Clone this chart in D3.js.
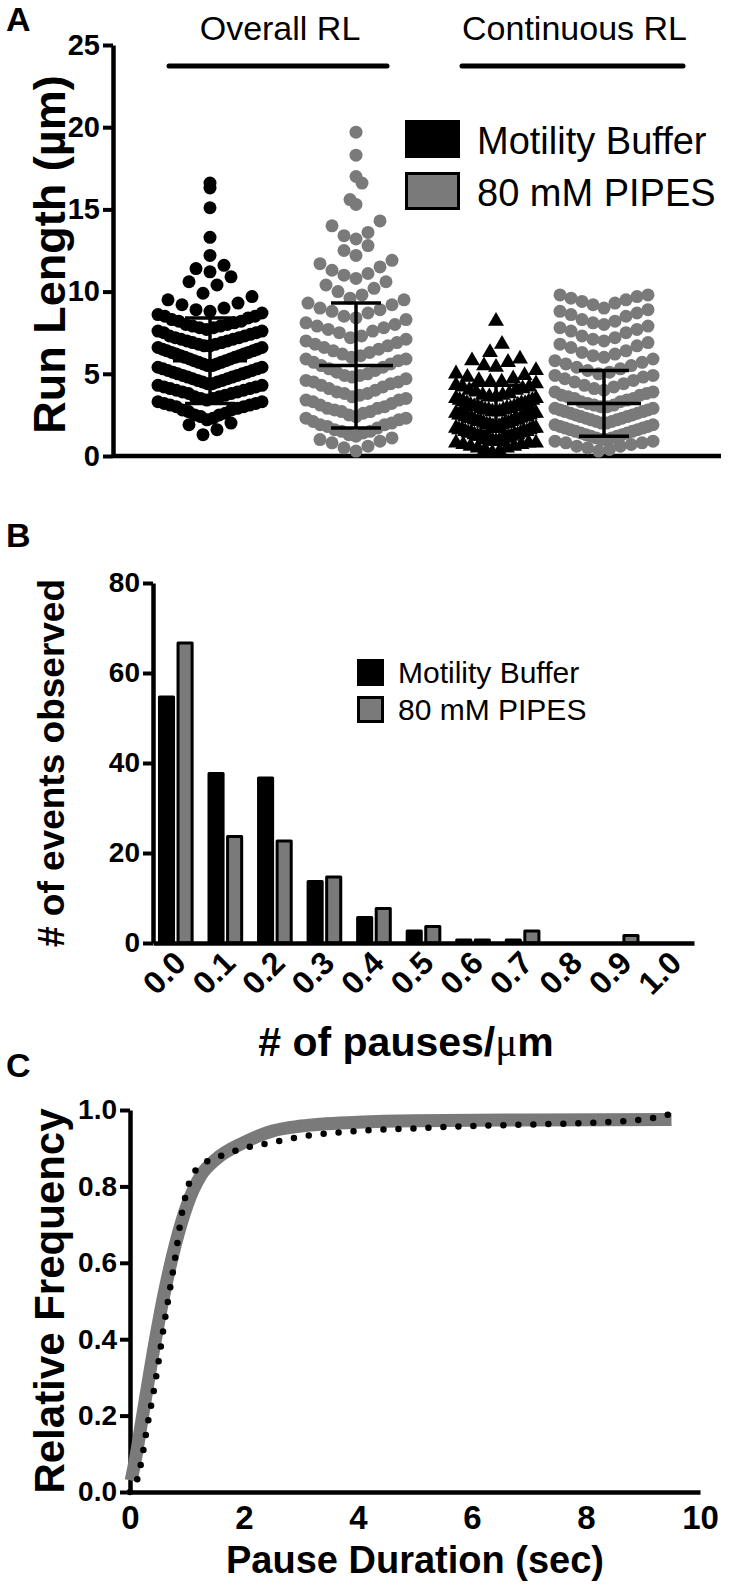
<!DOCTYPE html>
<meta charset="utf-8">
<head>
<style>
  body { margin: 0; background: #fff; }
  svg text { font-family: "Liberation Sans", Arial, sans-serif; fill: #000; }
  .axis .domain { stroke: #000; stroke-width: 4.5; }
  .axis .tick line { stroke: #000; stroke-width: 4; }
  .axis text { font-weight: bold; }
</style>
</head>
<body>
<div id="fig"></div>
<script src="https://d3js.org/d3.v7.min.js"></script>
<script>
// ---------- data ----------
// panel A: run lengths (um), one list per column
const runColumns = ["overallMB", "overallPIPES", "contMB", "contPIPES"];
const overallMB = [1.3, 1.6, 1.9, 2.0, 2.2, 2.3, 2.4, 2.5, 2.5, 2.6, 2.7, 2.8, 2.8, 2.9,
  3.0, 3.0, 3.1, 3.1, 3.2, 3.2, 3.3, 3.3, 3.4, 3.5, 3.5, 3.6, 3.6, 3.7, 3.8, 3.8, 3.9, 3.9,
  4.0, 4.0, 4.1, 4.1, 4.2, 4.2, 4.3, 4.3, 4.4, 4.4, 4.5, 4.5, 4.6, 4.6, 4.7, 4.7, 4.8, 4.8, 4.9, 4.9,
  5.0, 5.0, 5.1, 5.1, 5.2, 5.2, 5.3, 5.3, 5.4, 5.4, 5.5, 5.5, 5.6, 5.6, 5.7, 5.7, 5.8, 5.8, 5.9, 5.9,
  6.0, 6.0, 6.1, 6.1, 6.2, 6.2, 6.3, 6.3, 6.4, 6.4, 6.5, 6.5, 6.6, 6.6, 6.7, 6.7, 6.8, 6.8, 6.9, 6.9,
  7.0, 7.0, 7.1, 7.1, 7.2, 7.2, 7.3, 7.3, 7.4, 7.5, 7.5, 7.6, 7.6, 7.7, 7.8, 7.8, 7.9, 7.9,
  8.0, 8.0, 8.1, 8.2, 8.2, 8.3, 8.4, 8.5, 8.5, 8.6, 8.7, 8.8, 8.9,
  9.0, 9.2, 9.3, 9.5, 9.7, 9.9,
  10.4, 10.6, 10.9, 11.2, 11.4, 11.6, 12.2, 13.3, 15.1, 16.3, 16.6];
const overallPIPES = [0.3, 0.5, 0.6, 0.8, 0.9,
  1.0, 1.1, 1.2, 1.3, 1.4, 1.5, 1.5, 1.6, 1.7, 1.8, 1.9, 1.9,
  2.0, 2.1, 2.2, 2.3, 2.3, 2.4, 2.5, 2.6, 2.7, 2.7, 2.8, 2.9, 2.9,
  3.0, 3.1, 3.2, 3.3, 3.4, 3.4, 3.5, 3.6, 3.7, 3.8, 3.8, 3.9,
  4.0, 4.1, 4.2, 4.3, 4.4, 4.5, 4.5, 4.6, 4.7, 4.8, 4.9, 4.9,
  5.0, 5.1, 5.2, 5.3, 5.4, 5.5, 5.6, 5.7, 5.8, 5.9, 5.9,
  6.0, 6.1, 6.2, 6.3, 6.4, 6.5, 6.6, 6.7, 6.8, 6.9,
  7.0, 7.1, 7.2, 7.3, 7.5, 7.6, 7.7, 7.8, 7.9,
  8.0, 8.1, 8.3, 8.4, 8.5, 8.7, 8.8, 8.9,
  9.0, 9.2, 9.3, 9.5, 9.6, 9.8,
  10.0, 10.2, 10.4, 10.6, 10.8, 11.0, 11.1, 11.3, 11.5, 11.7, 11.9,
  12.2, 12.5, 12.8, 13.2, 13.4, 13.6, 14.0, 14.3, 15.3, 15.6, 16.6, 17.0, 18.3, 19.7];
const contMB = [0.2, 0.3, 0.4, 0.5, 0.5, 0.6, 0.6, 0.7, 0.7, 0.8, 0.8, 0.8, 0.9, 0.9, 0.9,
  1.0, 1.0, 1.0, 1.1, 1.1, 1.1, 1.2, 1.2, 1.2, 1.3, 1.3, 1.3, 1.4, 1.4, 1.4, 1.5, 1.5, 1.5,
  1.6, 1.6, 1.6, 1.7, 1.7, 1.7, 1.8, 1.8, 1.8, 1.9, 1.9, 1.9,
  2.0, 2.0, 2.0, 2.1, 2.1, 2.1, 2.2, 2.2, 2.2, 2.3, 2.3, 2.3, 2.4, 2.4, 2.4, 2.5, 2.5, 2.5,
  2.6, 2.6, 2.6, 2.7, 2.7, 2.7, 2.8, 2.8, 2.8, 2.9, 2.9, 2.9,
  3.0, 3.0, 3.0, 3.1, 3.1, 3.2, 3.2, 3.2, 3.3, 3.3, 3.4, 3.4, 3.5, 3.5, 3.6, 3.6, 3.7, 3.7, 3.8, 3.9,
  4.0, 4.0, 4.1, 4.2, 4.2, 4.3, 4.4, 4.5, 4.5, 4.6, 4.7, 4.8, 4.9,
  5.0, 5.2, 5.4, 5.5, 5.7, 5.8, 5.9, 6.3, 6.8, 8.2];
const contPIPES = [0.3, 0.4, 0.5, 0.6, 0.6, 0.7, 0.8, 0.8, 0.9, 0.9,
  1.0, 1.0, 1.1, 1.1, 1.2, 1.2, 1.3, 1.3, 1.4, 1.4, 1.5, 1.5, 1.6, 1.6, 1.7, 1.7, 1.8, 1.8, 1.9, 1.9,
  2.0, 2.0, 2.1, 2.1, 2.2, 2.2, 2.3, 2.3, 2.4, 2.4, 2.5, 2.5, 2.6, 2.6, 2.7, 2.7, 2.8, 2.8, 2.9, 2.9,
  3.0, 3.0, 3.1, 3.1, 3.2, 3.3, 3.3, 3.4, 3.5, 3.5, 3.6, 3.7, 3.7, 3.8, 3.9, 3.9,
  4.0, 4.1, 4.2, 4.3, 4.4, 4.5, 4.6, 4.7, 4.8, 4.9, 4.9,
  5.0, 5.1, 5.2, 5.3, 5.4, 5.5, 5.6, 5.7, 5.8, 5.9,
  6.0, 6.1, 6.2, 6.3, 6.4, 6.6, 6.7, 6.8, 6.9,
  7.0, 7.1, 7.2, 7.3, 7.5, 7.6, 7.7, 7.8, 7.9,
  8.0, 8.1, 8.2, 8.3, 8.5, 8.6, 8.7, 8.8, 8.9,
  9.0, 9.2, 9.3, 9.4, 9.5, 9.6, 9.7, 9.8, 9.8];
// mean and SD shown as error bars
const runMeans = [5.8, 5.5, 2.9, 3.2];
const runSDs = [2.6, 3.8, 1.4, 2.0];
const runTicks = [0, 5, 10, 15, 20, 25];

// panel B: histogram of pauses per um
const pauseBins = ["0.0", "0.1", "0.2", "0.3", "0.4", "0.5", "0.6", "0.7", "0.8", "0.9", "1.0"];
const mbCounts = [55, 38, 37, 14, 6, 3, 1, 1, 0, 0, 0];
const pipesCounts = [67, 24, 23, 15, 8, 4, 1, 3, 0, 2, 0];
const countTicks = [0, 20, 40, 60, 80];

// panel C: cumulative pause durations
const fitSec = [0.02, 0.1, 0.2, 0.4, 0.6, 0.8, 1.0, 1.25, 1.5, 2.0, 2.5, 3.0, 4.0, 5.0, 7.0, 9.5];
const fitFreq = [0.03, 0.09, 0.18, 0.36, 0.52, 0.65, 0.75, 0.83, 0.87, 0.915, 0.945, 0.958, 0.968, 0.972, 0.974, 0.975];
const ecdfSec = [0, 0.1, 0.2, 0.3, 0.4, 0.5, 0.6, 0.7, 0.8, 0.9, 1.0, 1.1, 1.3, 1.6, 2.0, 2.5, 3.0, 4.0, 5.0, 6.0, 7.0, 8.0, 9.0, 9.5];
const ecdfFreq = [0, 0.02, 0.08, 0.17, 0.25, 0.34, 0.44, 0.53, 0.62, 0.72, 0.79, 0.83, 0.86, 0.88, 0.9, 0.915, 0.93, 0.945, 0.952, 0.958, 0.962, 0.966, 0.975, 0.99];
const secTicks = [0, 2, 4, 6, 8, 10];
const freqTicks = [0, 0.2, 0.4, 0.6, 0.8, 1.0];

const legendLabels = ["Motility Buffer", "80 mM PIPES"];
const GRAY = "#7a7a7a";

// ---------- svg ----------
const svg = d3.select("#fig").append("svg")
    .attr("width", 750)
    .attr("height", 1586);

function panelLetter(t, y) {
    svg.append("text").attr("x", 6).attr("y", y)
        .style("font-size", "34px").style("font-weight", "bold").text(t);
}

// ===== Panel A =====
panelLetter("A", 31);
const yA = d3.scaleLinear().domain([0, 25]).range([456, 45]);
// column centres (prism leaves a narrower gap before the last column)
const xA = d3.scaleOrdinal().domain(runColumns).range([210, 356, 496, 604]);

svg.append("g").attr("class", "axis")
    .attr("transform", "translate(113,0)")
    .call(d3.axisLeft(yA).tickValues(runTicks).tickSize(10).tickSizeOuter(0).tickPadding(3))
    .selectAll("text").style("font-size", "29px");
svg.append("line").attr("x1", 113).attr("x2", 721).attr("y1", 456).attr("y2", 456)
    .attr("stroke", "#000").attr("stroke-width", 4.5);

svg.append("text")
    .attr("transform", "translate(65," + ((yA(0) + yA(25)) / 2 + 4) + ") rotate(-90)")
    .attr("text-anchor", "middle")
    .style("font-size", "45px").style("font-weight", "bold")
    .text("Run Length (µm)");

// rows of points; a row is spread sideways (sparse rows wide, crowded rows squeezed)
function swarm(values, cx, rowUnit, gap, maxHalf) {
    const pts = values.map(v => ({ v: v }));
    d3.groups(pts, p => Math.floor(p.v / rowUnit)).forEach(([k, row]) => {
        row.sort((a, b) => a.v - b.v);
        const n = row.length;
        const s = n > 1 ? Math.min(gap, 2 * maxHalf / (n - 1)) : 0;
        const slots = d3.range(n).map(i => (i - (n - 1) / 2) * s)
            .sort((a, b) => Math.abs(a) - Math.abs(b) || a - b);
        row.forEach((p, i) => { p.x = cx + slots[i]; p.y = yA(p.v); });
    });
    return pts;
}

const colSpecs = [
    { vals: overallMB, fill: "#000", shape: "circle", half: 52, row: 1.1, gap: 14 },
    { vals: overallPIPES, fill: GRAY, shape: "circle", half: 50, row: 1.2, gap: 12 },
    { vals: contMB, fill: "#000", shape: "triangle", half: 40, row: 0.9, gap: 12 },
    { vals: contPIPES, fill: GRAY, shape: "circle", half: 49, row: 1.0, gap: 11 }
];

colSpecs.forEach((c, i) => {
    const pts = swarm(c.vals, xA(runColumns[i]), c.row, c.gap, c.half);
    const g = svg.append("g");
    if (c.shape === "circle") {
        g.selectAll("circle").data(pts).join("circle")
            .attr("cx", d => d.x).attr("cy", d => d.y).attr("r", 6.5)
            .attr("fill", c.fill);
    } else {
        g.selectAll("path").data(pts).join("path")
            .attr("transform", d => "translate(" + d.x + "," + d.y + ")")
            .attr("d", d3.symbol(d3.symbolTriangle, 110))
            .attr("fill", c.fill);
    }
});

// mean +/- SD bars
runColumns.forEach((col, i) => {
    const cx = xA(col), m = runMeans[i], sd = runSDs[i];
    const g = svg.append("g").attr("stroke", "#000").attr("stroke-width", 3.5);
    g.append("line").attr("x1", cx).attr("x2", cx).attr("y1", yA(m - sd)).attr("y2", yA(m + sd));
    g.append("line").attr("x1", cx - 37).attr("x2", cx + 37).attr("y1", yA(m)).attr("y2", yA(m));
    [m - sd, m + sd].forEach(v => {
        g.append("line").attr("x1", cx - 25).attr("x2", cx + 25).attr("y1", yA(v)).attr("y2", yA(v));
    });
});

// group headers
const groups = [
    { label: "Overall RL", a: runColumns[0], b: runColumns[1], l: 41, r: 31 },
    { label: "Continuous RL", a: runColumns[2], b: runColumns[3], l: 34, r: 79 }
];
groups.forEach(gr => {
    const x1 = xA(gr.a) - gr.l, x2 = xA(gr.b) + gr.r;
    svg.append("line").attr("x1", x1).attr("x2", x2).attr("y1", 66).attr("y2", 66)
        .attr("stroke", "#000").attr("stroke-width", 5).attr("stroke-linecap", "round");
    svg.append("text").attr("x", (x1 + x2) / 2 + 2).attr("y", 40)
        .attr("text-anchor", "middle").style("font-size", "34px").text(gr.label);
});

// legend A
legendLabels.forEach((lab, i) => {
    const y0 = 120 + i * 52;
    svg.append("rect").attr("x", 406.5).attr("y", y0 + 1.5).attr("width", 52).attr("height", 35)
        .attr("fill", i === 0 ? "#000" : GRAY).attr("stroke", "#000").attr("stroke-width", 3);
    svg.append("text").attr("x", 477).attr("y", y0 + 34)
        .style("font-size", "38px").text(lab);
});

// ===== Panel B =====
panelLetter("B", 547);
const yB = d3.scaleLinear().domain([0, 80]).range([943, 583]);
const xB = d3.scaleBand().domain(pauseBins).range([153, 694]).paddingInner(0.28).paddingOuter(0.1);
const xB1 = d3.scaleBand().domain(["mb", "pipes"]).range([0, xB.bandwidth()]).paddingInner(0.08);

svg.append("g").attr("class", "axis")
    .attr("transform", "translate(153,0)")
    .call(d3.axisLeft(yB).tickValues(countTicks).tickSize(10).tickSizeOuter(0).tickPadding(3))
    .selectAll("text").style("font-size", "28px");

const barData = pauseBins.map((b, i) => [
    { bin: b, key: "mb", n: mbCounts[i] },
    { bin: b, key: "pipes", n: pipesCounts[i] }
]).flat().filter(d => d.n > 0);

svg.append("g").selectAll("rect").data(barData).join("rect")
    .attr("x", d => xB(d.bin) + xB1(d.key) + 1.5)
    .attr("width", xB1.bandwidth() - 3)
    .attr("y", d => yB(d.n) + 1.5)
    .attr("height", d => Math.max(0, yB(0) - yB(d.n) - 1.5))
    .attr("fill", d => d.key === "mb" ? "#000" : GRAY)
    .attr("stroke", "#000").attr("stroke-width", 3).attr("stroke-linejoin", "round");

const xAxisB = svg.append("g").attr("class", "axis")
    .attr("transform", "translate(0,943)")
    .call(d3.axisBottom(xB).tickSize(0).tickSizeOuter(0).tickPadding(0));
xAxisB.selectAll("text")
    .style("font-size", "32px")
    .attr("text-anchor", "end")
    .attr("y", 0)
    .attr("dy", 0)
    .attr("transform", "translate(12,22) rotate(-45)");

svg.append("text")
    .attr("transform", "translate(64," + ((yB(0) + yB(80)) / 2) + ") rotate(-90)")
    .attr("text-anchor", "middle")
    .style("font-size", "37px").style("font-weight", "bold")
    .text("# of events observed");

const xtB = svg.append("text").attr("x", 406).attr("y", 1056)
    .attr("text-anchor", "middle")
    .style("font-size", "41px").style("font-weight", "bold");
xtB.append("tspan").text("# of pauses/");
xtB.append("tspan").style("font-family", "'Liberation Serif', serif").style("font-weight", "normal").text("μ");
xtB.append("tspan").text("m");

// legend B
legendLabels.forEach((lab, i) => {
    const y0 = 659 + i * 37;
    svg.append("rect").attr("x", 358.5).attr("y", y0 + 1.5).attr("width", 24).attr("height", 24)
        .attr("fill", i === 0 ? "#000" : GRAY).attr("stroke", "#000").attr("stroke-width", 3);
    svg.append("text").attr("x", 398).attr("y", y0 + 24)
        .style("font-size", "30px").text(lab);
});

// ===== Panel C =====
panelLetter("C", 1077);
const yC = d3.scaleLinear().domain([0, 1]).range([1492, 1110]);
const xC = d3.scaleLinear().domain([0, 10]).range([130, 700]);

svg.append("g").attr("class", "axis")
    .attr("transform", "translate(130,0)")
    .call(d3.axisLeft(yC).tickValues(freqTicks).tickFormat(d3.format(".1f"))
        .tickSize(10).tickSizeOuter(0).tickPadding(3))
    .selectAll("text").style("font-size", "28px");
svg.append("g").attr("class", "axis")
    .attr("transform", "translate(0,1492)")
    .call(d3.axisBottom(xC).tickValues(secTicks).tickSize(0).tickSizeOuter(0).tickPadding(14))
    .selectAll("text").style("font-size", "33px").attr("dy", "0.71em");

svg.append("text")
    .attr("transform", "translate(64," + ((yC(0) + yC(1)) / 2) + ") rotate(-90)")
    .attr("text-anchor", "middle")
    .style("font-size", "42px").style("font-weight", "bold")
    .text("Relative Frequency");
svg.append("text").attr("x", 415).attr("y", 1573)
    .attr("text-anchor", "middle")
    .style("font-size", "38px").style("font-weight", "bold")
    .text("Pause Duration (sec)");

const lineC = d3.line().x(d => xC(d[0])).y(d => yC(d[1])).curve(d3.curveMonotoneX);
svg.append("path")
    .datum(d3.zip(fitSec, fitFreq))
    .attr("fill", "none").attr("stroke", GRAY).attr("stroke-width", 13)
    .attr("d", lineC);
svg.append("path")
    .datum(d3.zip(ecdfSec, ecdfFreq))
    .attr("fill", "none").attr("stroke", "#000").attr("stroke-width", 6.5)
    .attr("stroke-linecap", "round").attr("stroke-dasharray", "0 15")
    .attr("d", lineC);
</script>
</body>
